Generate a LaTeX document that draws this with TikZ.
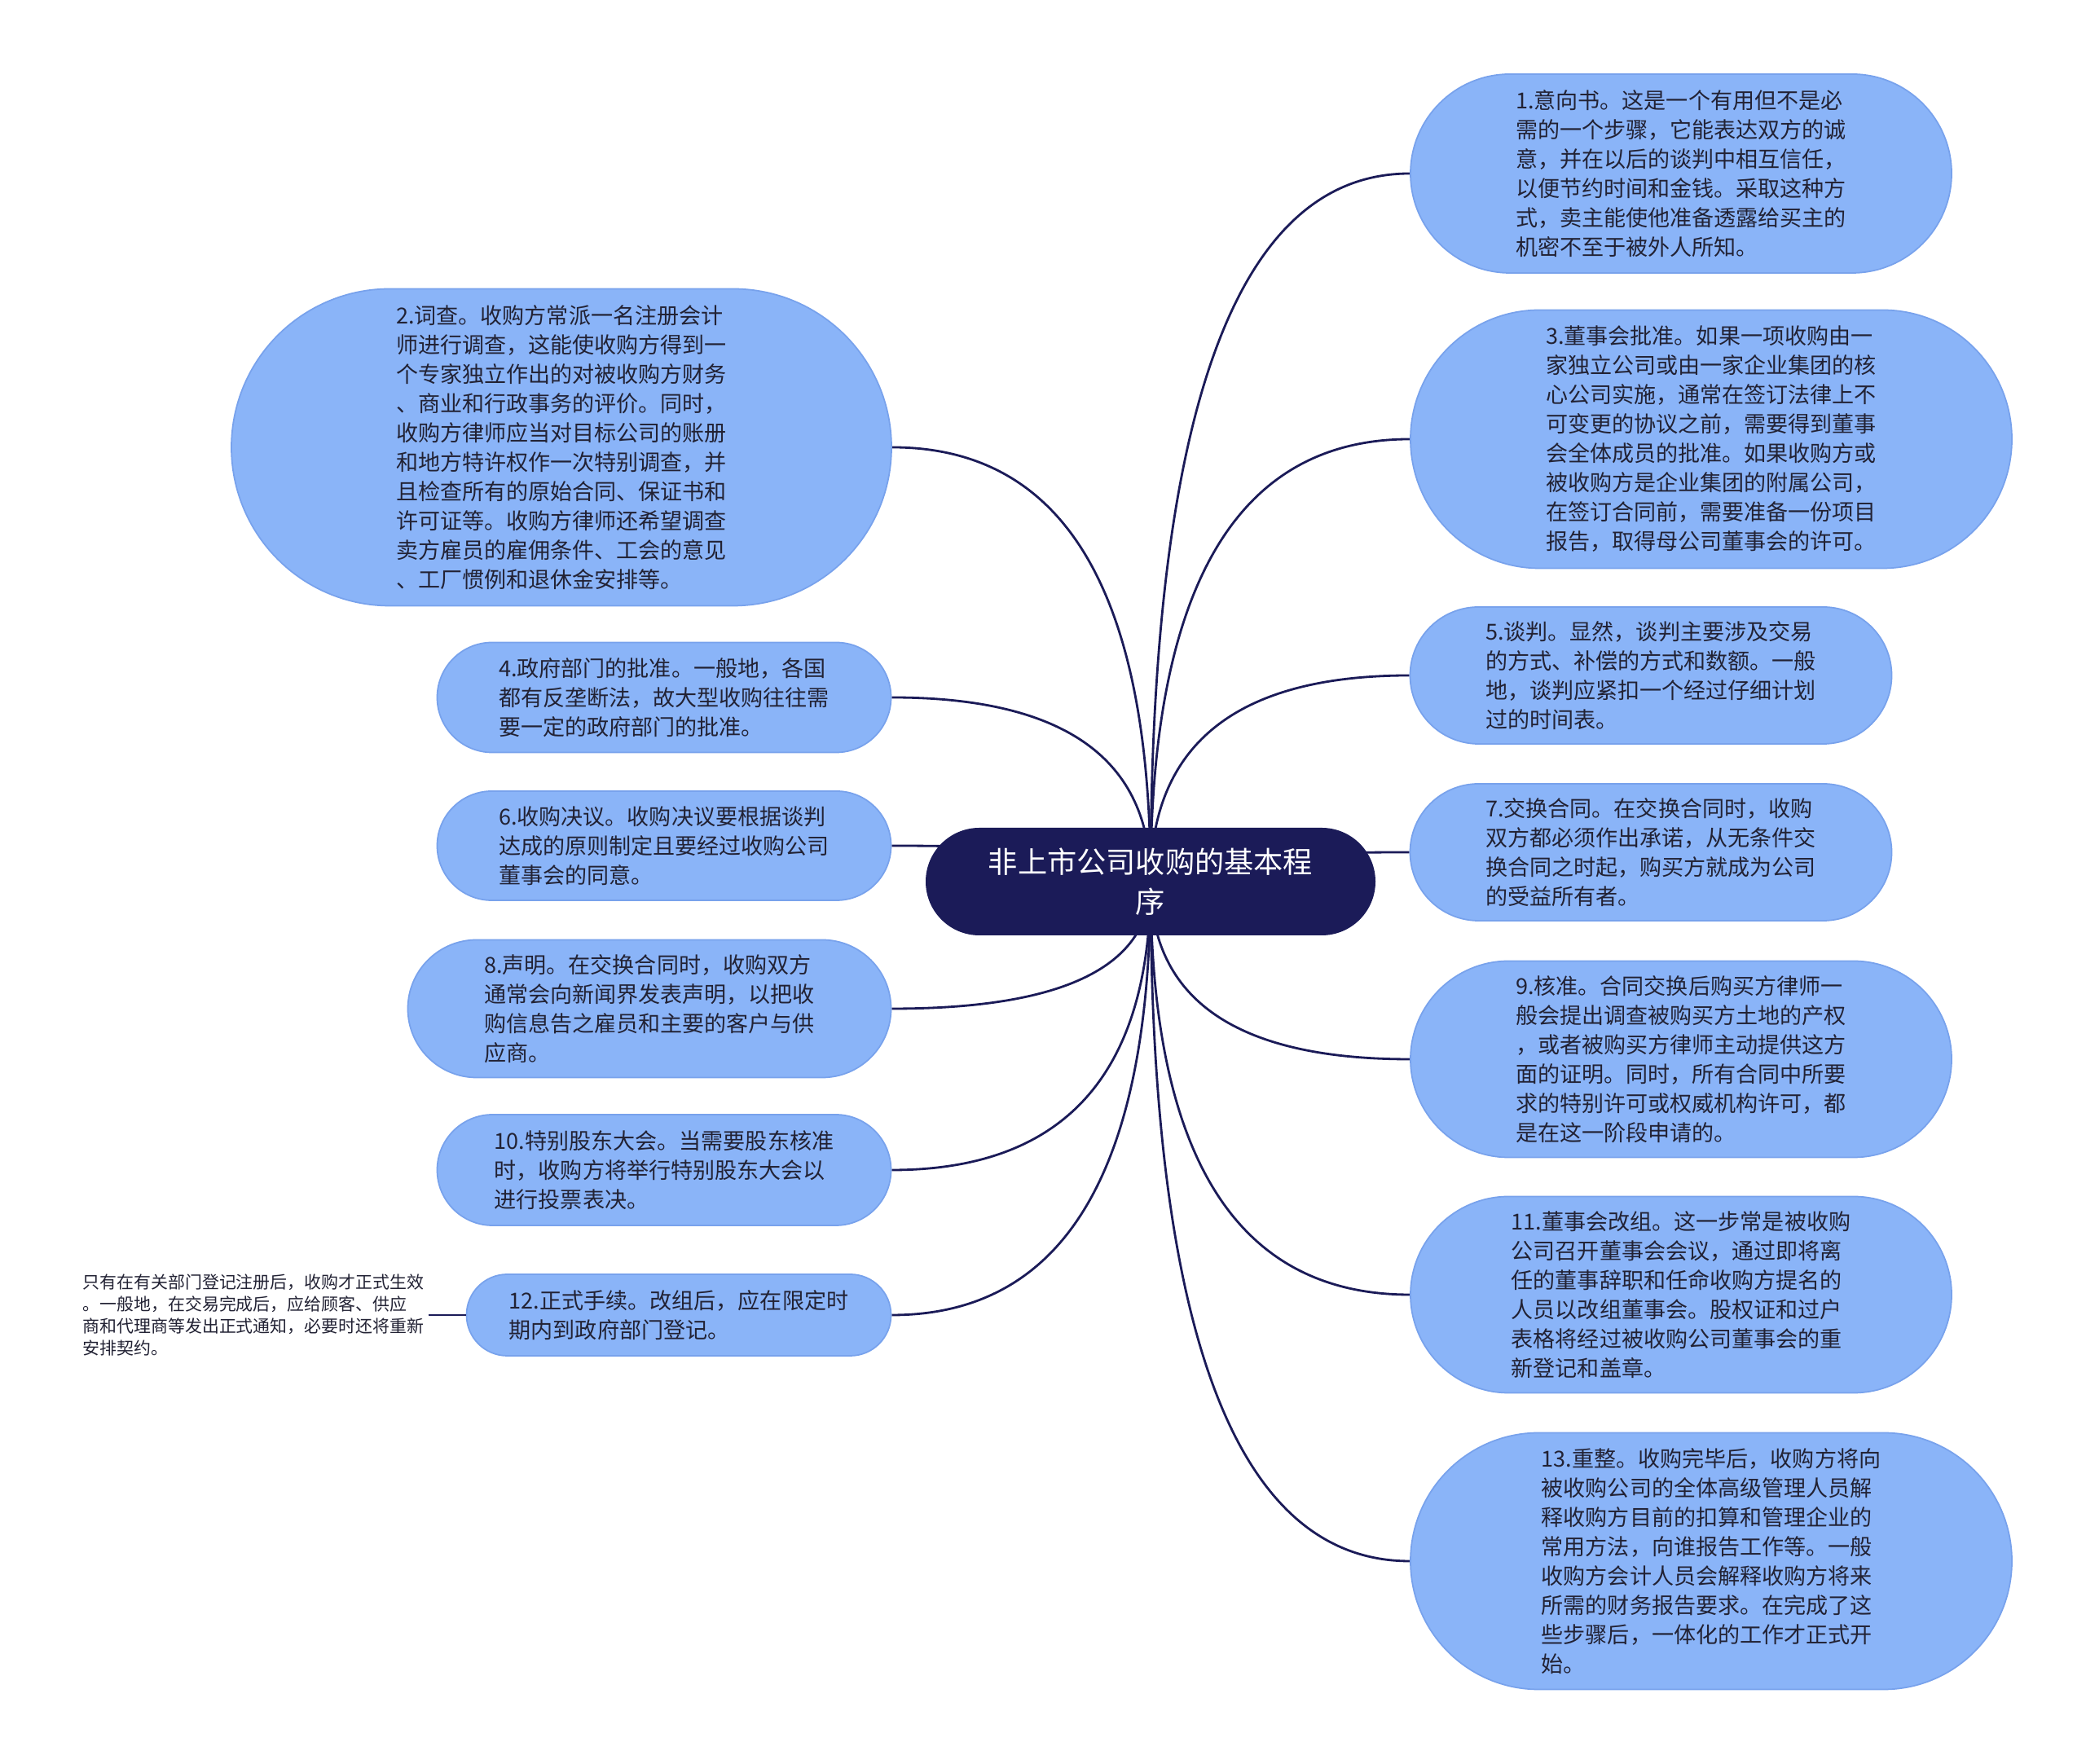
\documentclass[tikz,border=0pt]{standalone}
\usepackage{fontspec}
\setmainfont{Noto Sans CJK SC}
\usetikzlibrary{shapes.misc,calc,backgrounds}
\definecolor{leaf}{RGB}{138,180,248}
\definecolor{leafline}{RGB}{120,162,236}
\definecolor{navy}{RGB}{27,27,88}
\definecolor{ink}{RGB}{34,34,52}

\begin{document}
\begin{tikzpicture}[x=1cm,y=1cm,
  leafbox/.style={rounded rectangle,fill=leaf,draw=leafline,line width=.5pt,inner sep=0pt,align=left,text=ink,font=\fontsize{7.7pt}{10.25pt}\selectfont},
  rootbox/.style={rounded rectangle,fill=navy,inner sep=0pt,align=center,text=white,minimum width=5.52cm,minimum height=1.32cm,font=\fontsize{10.3pt}{13.9pt}\selectfont},
  link/.style={draw=navy,line width=.8pt}]
\useasboundingbox (0,0) rectangle (25.6,21.65);
\node[rootbox] (root) at (14.12,10.83) {非上市公司收购的基本程\\序};
\node[leafbox,minimum width=6.64cm,minimum height=2.44cm] (n1) at (20.63,19.52) {1.意向书。这是一个有用但不是必\\需的一个步骤，它能表达双方的诚\\意，并在以后的谈判中相互信任，\\以便节约时间和金钱。采取这种方\\式，卖主能使他准备透露给买主的\\机密不至于被外人所知。};
\node[leafbox,minimum width=8.10cm,minimum height=3.89cm] (n2) at (6.89,16.16) {2.词查。收购方常派一名注册会计\\师进行调查，这能使收购方得到一\\个专家独立作出的对被收购方财务\\、商业和行政事务的评价。同时，\\收购方律师应当对目标公司的账册\\和地方特许权作一次特别调查，并\\且检查所有的原始合同、保证书和\\许可证等。收购方律师还希望调查\\卖方雇员的雇佣条件、工会的意见\\、工厂惯例和退休金安排等。};
\node[leafbox,minimum width=7.38cm,minimum height=3.17cm] (n3) at (21.00,16.26) {3.董事会批准。如果一项收购由一\\家独立公司或由一家企业集团的核\\心公司实施，通常在签订法律上不\\可变更的协议之前，需要得到董事\\会全体成员的批准。如果收购方或\\被收购方是企业集团的附属公司，\\在签订合同前，需要准备一份项目\\报告，取得母公司董事会的许可。};
\node[leafbox,minimum width=5.57cm,minimum height=1.35cm] (n4) at (8.15,13.09) {4.政府部门的批准。一般地，各国\\都有反垄断法，故大型收购往往需\\要一定的政府部门的批准。};
\node[leafbox,minimum width=5.91cm,minimum height=1.68cm] (n5) at (20.26,13.36) {5.谈判。显然，谈判主要涉及交易\\的方式、补偿的方式和数额。一般\\地，谈判应紧扣一个经过仔细计划\\过的时间表。};
\node[leafbox,minimum width=5.57cm,minimum height=1.34cm] (n6) at (8.15,11.27) {6.收购决议。收购决议要根据谈判\\达成的原则制定且要经过收购公司\\董事会的同意。};
\node[leafbox,minimum width=5.91cm,minimum height=1.68cm] (n7) at (20.26,11.19) {7.交换合同。在交换合同时，收购\\双方都必须作出承诺，从无条件交\\换合同之时起，购买方就成为公司\\的受益所有者。};
\node[leafbox,minimum width=5.93cm,minimum height=1.69cm] (n8) at (7.97,9.27) {8.声明。在交换合同时，收购双方\\通常会向新闻界发表声明，以把收\\购信息告之雇员和主要的客户与供\\应商。};
\node[leafbox,minimum width=6.64cm,minimum height=2.41cm] (n9) at (20.63,8.65) {9.核准。合同交换后购买方律师一\\般会提出调查被购买方土地的产权\\，或者被购买方律师主动提供这方\\面的证明。同时，所有合同中所要\\求的特别许可或权威机构许可，都\\是在这一阶段申请的。};
\node[leafbox,minimum width=5.57cm,minimum height=1.36cm] (n10) at (8.15,7.29) {10.特别股东大会。当需要股东核准\\时，收购方将举行特别股东大会以\\进行投票表决。};
\node[leafbox,minimum width=6.64cm,minimum height=2.41cm] (n11) at (20.63,5.76) {11.董事会改组。这一步常是被收购\\公司召开董事会会议，通过即将离\\任的董事辞职和任命收购方提名的\\人员以改组董事会。股权证和过户\\表格将经过被收购公司董事会的重\\新登记和盖章。};
\node[leafbox,minimum width=5.21cm,minimum height=1.00cm] (n12) at (8.33,5.51) {12.正式手续。改组后，应在限定时\\期内到政府部门登记。};
\node[leafbox,minimum width=7.38cm,minimum height=3.15cm] (n13) at (21.00,2.49) {13.重整。收购完毕后，收购方将向\\被收购公司的全体高级管理人员解\\释收购方目前的扣算和管理企业的\\常用方法，向谁报告工作等。一般\\收购方会计人员会解释收购方将来\\所需的财务报告要求。在完成了这\\些步骤后，一体化的工作才正式开\\始。};
\node[anchor=west,inner sep=.05cm,align=left,text=ink,font=\fontsize{5.95pt}{7.65pt}\selectfont] (note) at (0.96,5.51) {只有在有关部门登记注册后，收购才正式生效\\。一般地，在交易完成后，应给顾客、供应\\商和代理商等发出正式通知，必要时还将重新\\安排契约。};
\begin{scope}[on background layer]
\foreach \n/\s in {n1/west,n2/east,n3/west,n4/east,n5/west,n6/east,n7/west,n8/east,n9/west,n10/east,n11/west,n12/east,n13/west}
  \draw[link] (root.center) .. controls ($(root.center)!.667!(root.center|-\n.\s)$) and ($(\n.\s)!.667!(root.center|-\n.\s)$) .. (\n.\s);
\end{scope}
\draw[link] (note.east) -- (n12.west);
\end{tikzpicture}
\end{document}
